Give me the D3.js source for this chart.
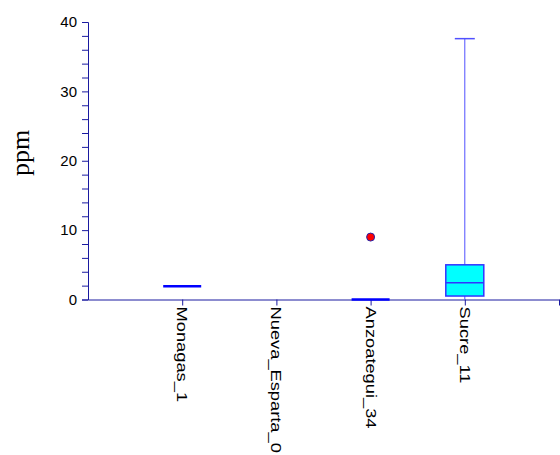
<!DOCTYPE html>
<html><head><meta charset="utf-8">
<script src="https://cdn.jsdelivr.net/npm/d3@7"></script>
<style>body{margin:0;background:#fff}</style>
</head><body>
<svg id="c" width="560" height="455"></svg>
<script>
const categories = ["Monagas_1","Nueva_Esparta_0","Anzoategui_34","Sucre_11"];
const q1 =      [1.9, null, 0,  0.5];
const median =  [1.9, null, 0,  2.4];
const q3 =      [1.9, null, 0,  5.0];
const whiskLo = [1.9, null, 0,  0];
const whiskHi = [1.9, null, 0,  37.6];
const outliers = [[], [], [9.0], []];
const yTicks = [0,10,20,30,40];

const svg = d3.select("#c");
const x = d3.scaleLinear().domain([0,5]).range([88,559]);
const y = d3.scaleLinear().domain([0,40]).range([299.5,22]);
const axisColor = "#1a1aa0";
const lineColor = "#3333ff";
const halfW = 19;

// y axis
const ya = svg.append("g").attr("transform","translate(88,0)")
  .call(d3.axisLeft(y).tickValues(d3.range(0,41,2)).tickSize(6).tickFormat(d => yTicks.includes(d) ? d : ""));
ya.select(".domain").attr("stroke",axisColor);
ya.selectAll(".tick line").attr("stroke",axisColor);
ya.selectAll(".tick text").attr("font-family","Liberation Sans, Arial").attr("font-size",15).attr("fill","#000").attr("x",-11);

// x axis
const xa = svg.append("g").attr("transform","translate(0,299.5)")
  .call(d3.axisBottom(x).tickValues([1,2,3,4,5]).tickSize(6).tickSizeOuter(0).tickFormat(d => categories[d-1] || ""));
xa.select(".domain").attr("stroke",axisColor);
xa.selectAll(".tick line").attr("stroke",axisColor);
xa.selectAll(".tick text").attr("font-family","Liberation Sans, Arial").attr("font-size",15.5).attr("fill","#000")
  .attr("transform","rotate(90) scale(1.18,1)").attr("text-anchor","start").attr("x",6).attr("y",0).attr("dy","0.35em");

// boxes
categories.forEach((c,i) => {
  if (q1[i] === null) return;
  const cx = x(i+1);
  const g = svg.append("g");
  if (q3[i] - q1[i] > 0.01) {
    g.append("line").attr("x1",cx).attr("x2",cx).attr("y1",y(q3[i])).attr("y2",y(whiskHi[i])).attr("stroke","#5050ff").attr("stroke-width",1);
    g.append("line").attr("x1",cx).attr("x2",cx).attr("y1",y(q1[i])).attr("y2",y(whiskLo[i])).attr("stroke","#5050ff").attr("stroke-width",1);
    g.append("line").attr("x1",cx-10).attr("x2",cx+10).attr("y1",y(whiskHi[i])).attr("y2",y(whiskHi[i])).attr("stroke","#5050ff").attr("stroke-width",1.5);
    g.append("rect").attr("x",cx-halfW).attr("width",2*halfW).attr("y",y(q3[i])).attr("height",y(q1[i])-y(q3[i]))
      .attr("fill","#00ffff").attr("stroke",lineColor).attr("stroke-width",1.5);
    g.append("line").attr("x1",cx-halfW).attr("x2",cx+halfW).attr("y1",y(median[i])).attr("y2",y(median[i])).attr("stroke",lineColor).attr("stroke-width",1.5);
  } else {
    g.append("line").attr("x1",cx-halfW).attr("x2",cx+halfW).attr("y1",y(median[i])).attr("y2",y(median[i])).attr("stroke","#0000ff").attr("stroke-width",2.5);
  }
  outliers[i].forEach(v => {
    g.append("circle").attr("cx",cx).attr("cy",y(v)).attr("r",4).attr("fill","#ff0000").attr("stroke","#2222aa").attr("stroke-width",1);
  });
});

// y label
svg.append("text").attr("transform","translate(29,153) rotate(-90)").attr("text-anchor","middle")
  .attr("font-family","Liberation Serif, Times New Roman").attr("font-size",26).attr("fill","#000").text("ppm");
</script>
</body></html>
